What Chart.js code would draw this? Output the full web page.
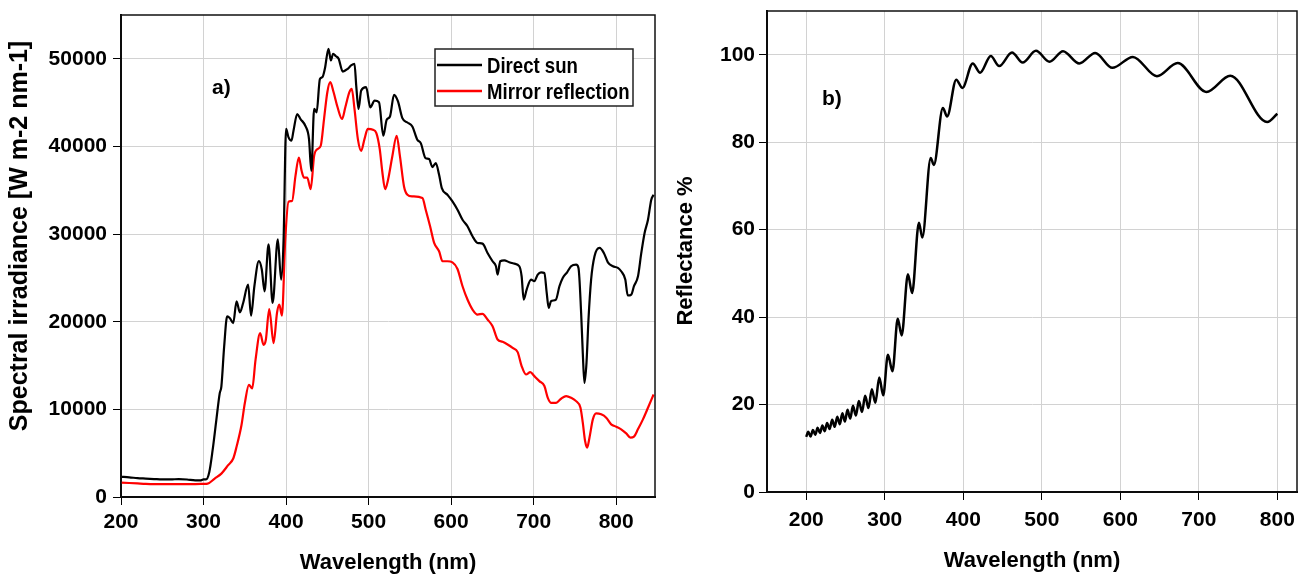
<!DOCTYPE html>
<html>
<head>
<meta charset="utf-8">
<script src="https://cdn.jsdelivr.net/npm/chart.js@4"></script>
<style>
  html, body { margin: 0; padding: 0; background: #fff; }
  #wrap { position: relative; width: 1299px; height: 575px; overflow: hidden; }
  #left { position: absolute; left: 0; top: 0; }
  #right { position: absolute; left: 660px; top: 0; }
</style>
</head>
<body>
<div id="wrap">
  <canvas id="left" width="660" height="575"></canvas>
  <canvas id="right" width="639" height="575"></canvas>
</div>
<script>
// panel a) spectral irradiance
const sunWl = [
  200, 210, 220, 230, 240, 250, 260, 270, 280, 290,
  296, 300, 303, 307, 311, 315.5, 319.6, 321.6, 325, 328.6,
  332, 336, 340, 344, 348, 354, 357.6, 361.6, 367, 370.6,
  373.9, 378.8, 383.7, 390, 394, 397, 400, 403, 406.5, 409,
  413.5, 417.5, 423.7, 427.8, 430.6, 434, 437, 441, 444, 447,
  451.4, 454.3, 457, 460.4, 463.7, 468.6, 474.7, 478.8, 482.9, 485,
  487.8, 491, 497, 502, 507.3, 512.6, 517.8, 521.9, 525.9, 530.8,
  535.6, 540.9, 547, 553, 559, 563.2, 569, 573.3, 577.3, 581.4,
  585.4, 588.7, 595.5, 601.6, 607.7, 613.8, 619.8, 625.9, 632, 638,
  644.1, 650.2, 654.3, 656.3, 659.5, 664.4, 670.4, 676.5, 682.6, 685.4,
  687.9, 691.5, 696.8, 700.8, 704.9, 708.9, 713, 715.8, 718.2, 721,
  727, 731.2, 735.2, 740.5, 745.3, 751.4, 754.3, 757.5, 759.5, 761.5,
  764, 766.4, 769.6, 773.7, 779.8, 785, 789.9, 796, 802, 806,
  811, 814, 818.3, 821.5, 826.4, 830.4, 834.4, 838.5, 842.5, 845.3
];
const sunVal = [
  2300, 2250, 2150, 2100, 2050, 2000, 2000, 2050, 2000, 1900,
  1900, 2000, 2000, 2860, 5340, 8780, 11830, 12600, 17180, 20600,
  20400, 19850, 22330, 21070, 22140, 24240, 20690, 24050, 26910, 25960,
  23470, 28820, 22140, 29400, 24800, 29400, 42000, 41030, 40650, 41800,
  43700, 43130, 42290, 40840, 37220, 44280, 43900, 47700, 47900, 48860,
  51150, 49810, 50580, 50300, 50000, 48550, 48860, 49240, 49430, 46950,
  44280, 46380, 46760, 44470, 45230, 45040, 41220, 43040, 43420, 45890,
  45130, 43230, 42730, 42280, 40760, 40380, 38670, 38560, 37650, 38100,
  36770, 35250, 34490, 33730, 32780, 31640, 30890, 29750, 28990, 28910,
  27850, 26900, 26330, 25380, 26900, 27010, 26780, 26630, 26330, 25190,
  22530, 23670, 24810, 24620, 25380, 25640, 25570, 23290, 21580, 22340,
  22530, 24050, 25000, 25640, 26330, 26520, 26140, 21010, 16450, 13030,
  15310, 20250, 24810, 27470, 28420, 27850, 26780, 26330, 26140, 25760,
  24810, 22990, 23100, 24050, 25190, 27850, 30130, 31640, 33920, 34490
];
const mirrorWl = [
  200, 210, 220, 230, 240, 250, 260, 270, 280, 290,
  300, 305, 313.5, 321.6, 329.8, 336, 340, 346, 350, 355,
  359, 363, 368.6, 372.7, 375.5, 379.6, 384.9, 389, 391.8, 395,
  399, 403, 407.3, 411.4, 415.5, 418.8, 421.6, 425.7, 429.8, 434,
  438, 442, 446, 450, 453.5, 457.6, 462.4, 467.8, 471.8, 476.7,
  479.6, 482.9, 487, 491, 495, 499, 505.3, 509.4, 513.5, 516.7,
  520, 523.7, 528.7, 534, 538, 542.9, 547, 553, 565.2, 569.2,
  574.5, 579.4, 585.4, 589.5, 595.5, 601.6, 607.7, 613.8, 619.8, 625.9,
  632, 638, 644.1, 650.2, 656.3, 662.3, 668.4, 674.5, 680.6, 685.4,
  690.7, 695.9, 700.8, 706.9, 713, 717, 721, 727.1, 733.2, 739.3,
  745.3, 751.4, 756.7, 759.5, 762.3, 764.8, 767.6, 771.7, 775.7, 781.8,
  787.9, 793.9, 800, 806, 812.1, 817.4, 821.5, 826.3, 832.4, 838.5,
  845.3
];
const mirrorVal = [
  1650, 1600, 1550, 1500, 1480, 1480, 1470, 1470, 1480, 1480,
  1500, 1530, 2100, 2670, 3630, 4390, 5730, 8210, 10690, 12790,
  12400, 15650, 18700, 17370, 17940, 21450, 17560, 21000, 21950, 20690,
  29400, 33700, 33780, 36640, 38740, 37220, 36450, 36450, 35120, 38930,
  39700, 40080, 43130, 46190, 47330, 46190, 44470, 43130, 44470, 46190,
  46570, 44280, 40840, 39500, 40840, 42000, 41910, 41530, 39700, 37030,
  35120, 36260, 38860, 41220, 38860, 35440, 34490, 34300, 34110, 32780,
  30890, 28990, 28040, 26900, 26900, 26780, 26020, 24050, 22530, 21390,
  20820, 20900, 20250, 19490, 17970, 17710, 17400, 17020, 16530, 14940,
  13980, 14250, 13790, 13220, 12660, 11330, 10750, 10750, 11210, 11520,
  11330, 10940, 10180, 8480, 6390, 5630, 6770, 8860, 9540, 9430,
  9050, 8290, 8020, 7720, 7260, 6770, 6880, 7720, 8860, 10180,
  11700
];

// panel b) reflectance, peaks and troughs of the fringes
const reflWl = [
  200, 202.5, 205.5, 208.5, 211.5, 214.5, 217.5, 220.5, 223.5, 226.5,
  229.7, 233, 236.2, 239.5, 242.7, 246, 249.2, 252.5, 256, 259.5,
  263.2, 267, 271, 275, 279.2, 283.5, 288, 293, 298, 304,
  309.8, 316.5, 321.5, 329.5, 334.8, 343.5, 347.8, 358.5, 362.5, 374,
  379.4, 391, 398.8, 412, 421.5, 435, 445.7, 462, 475.6, 492.5,
  509.8, 527, 547.7, 568, 589.8, 616, 646.6, 673, 709.7, 740,
  787, 800
];
const reflVal = [
  12.6, 13.8, 12.7, 14.2, 13.1, 14.7, 13.5, 15.2, 13.9, 15.8,
  14.4, 16.5, 14.9, 17.2, 15.5, 18.0, 16.1, 18.8, 16.8, 19.7,
  17.5, 20.8, 18.3, 22.0, 19.2, 23.5, 20.4, 26.2, 22.1, 31.4,
  27.6, 39.6, 35.8, 49.8, 45.5, 61.6, 58.2, 76.4, 74.8, 87.8,
  85.9, 94.3, 92.4, 98.0, 95.9, 99.7, 97.4, 100.5, 98.2, 100.9,
  98.4, 100.8, 98.0, 100.4, 97.0, 99.5, 95.1, 98.1, 91.5, 95.2,
  84.6, 86.5
];

const xTickValues = [200, 300, 400, 500, 600, 700, 800];
const irrTickValues = [0, 10000, 20000, 30000, 40000, 50000];
const reflTickValues = [0, 20, 40, 60, 80, 100];

const FONT = '"Liberation Sans", Arial, sans-serif';

function pts(xs, ys) {
  return xs.map((x, i) => ({ x: x, y: ys[i] }));
}

const decor = {
  id: 'decor',
  afterDraw(chart, args, o) {
    const ctx = chart.ctx;
    const a = chart.chartArea;
    ctx.save();
    ctx.strokeStyle = '#111';
    ctx.lineWidth = 1.5;
    ctx.strokeRect(a.left, a.top, a.right - a.left, a.bottom - a.top);

    ctx.fillStyle = '#000';
    ctx.font = 'bold 21px ' + FONT;
    ctx.textAlign = 'left';
    ctx.textBaseline = 'alphabetic';
    ctx.fillText(o.panel, o.panelX, o.panelY);

    ctx.font = 'bold 22px ' + FONT;
    ctx.textAlign = 'center';
    ctx.fillText(o.xTitle, (a.left + a.right) / 2, o.xTitleY);

    ctx.save();
    ctx.font = 'bold ' + o.yTitleSize + 'px ' + FONT;
    ctx.translate(o.yTitleX, o.yTitleY);
    ctx.rotate(-Math.PI / 2);
    ctx.textBaseline = 'middle';
    ctx.fillText(o.yTitle, 0, 0);
    ctx.restore();

    if (o.legend) {
      const L = o.legend;
      ctx.fillStyle = '#fff';
      ctx.fillRect(L.left, L.top, L.right - L.left, L.bottom - L.top);
      ctx.strokeStyle = '#222';
      ctx.lineWidth = 1.5;
      ctx.strokeRect(L.left, L.top, L.right - L.left, L.bottom - L.top);
      chart.data.datasets.forEach((d, i) => {
        const y = L.rows[i];
        ctx.strokeStyle = d.borderColor;
        ctx.lineWidth = 2.5;
        ctx.beginPath();
        ctx.moveTo(L.left + 2, y);
        ctx.lineTo(L.left + 47, y);
        ctx.stroke();
        // narrow bold face is not installed, so squeeze the regular one
        ctx.save();
        ctx.translate(L.left + 52, y + 8);
        ctx.scale(0.845, 1);
        ctx.font = 'bold 22px ' + FONT;
        ctx.fillStyle = '#000';
        ctx.textAlign = 'left';
        ctx.textBaseline = 'alphabetic';
        ctx.fillText(d.label, 0, 0);
        ctx.restore();
      });
    }
    ctx.restore();
  }
};

function axis(min, max, keep, size, isX, pad) {
  return {
    type: 'linear',
    min: min,
    max: max,
    afterBuildTicks: s => { s.ticks = keep.map(v => ({ value: v })); },
    afterFit: s => {
      if (isX) s.height = size; else s.width = size;
      // plot box is set by layout.padding only
      s.paddingTop = s.paddingBottom = s.paddingLeft = s.paddingRight = 0;
    },
    ticks: {
      color: '#000',
      padding: pad,
      font: { family: FONT, size: 21, weight: 'bold' },
      callback: v => String(v)
    },
    grid: { color: '#d2d2d2', lineWidth: 1, tickColor: '#000', tickLength: 8 },
    border: { color: '#000', width: 2 },
    title: { display: false }
  };
}

new Chart(document.getElementById('left'), {
  type: 'line',
  data: {
    datasets: [{
      label: 'Direct sun',
      data: pts(sunWl, sunVal),
      borderColor: '#000000',
      borderWidth: 2.2,
      pointRadius: 0,
      cubicInterpolationMode: 'monotone'
    }, {
      label: 'Mirror reflection',
      data: pts(mirrorWl, mirrorVal),
      borderColor: '#ff0000',
      borderWidth: 2.2,
      pointRadius: 0,
      cubicInterpolationMode: 'monotone'
    }]
  },
  options: {
    responsive: false,
    animation: false,
    layout: { autoPadding: false, padding: { left: 0, right: 5, top: 15, bottom: 0 } },
    scales: {
      x: axis(200, 847, xTickValues, 78, true, 5),
      y: axis(0, 55000, irrTickValues, 121, false, 6)
    },
    plugins: {
      legend: { display: false },
      tooltip: { enabled: false },
      decor: {
        panel: 'a)', panelX: 212, panelY: 94,
        xTitle: 'Wavelength (nm)', xTitleY: 569,
        yTitle: 'Spectral irradiance [W m-2 nm-1]', yTitleSize: 25, yTitleX: 20, yTitleY: 236,
        legend: { left: 435, right: 633, top: 49, bottom: 106, rows: [65, 91] }
      }
    }
  },
  plugins: [decor]
});

new Chart(document.getElementById('right'), {
  type: 'line',
  data: {
    datasets: [{
      label: 'Reflectance',
      data: pts(reflWl, reflVal),
      borderColor: '#000000',
      borderWidth: 2.5,
      pointRadius: 0,
      cubicInterpolationMode: 'monotone'
    }]
  },
  options: {
    responsive: false,
    animation: false,
    layout: { autoPadding: false, padding: { left: 0, right: 2, top: 11, bottom: 0 } },
    scales: {
      x: axis(150, 825, xTickValues, 83, true, 8),
      y: axis(0, 110, reflTickValues, 107, false, 4)
    },
    plugins: {
      legend: { display: false },
      tooltip: { enabled: false },
      decor: {
        panel: 'b)', panelX: 162, panelY: 105,
        xTitle: 'Wavelength (nm)', xTitleY: 567,
        yTitle: 'Reflectance %', yTitleSize: 22, yTitleX: 26, yTitleY: 251
      }
    }
  },
  plugins: [decor]
});
</script>
</body>
</html>
